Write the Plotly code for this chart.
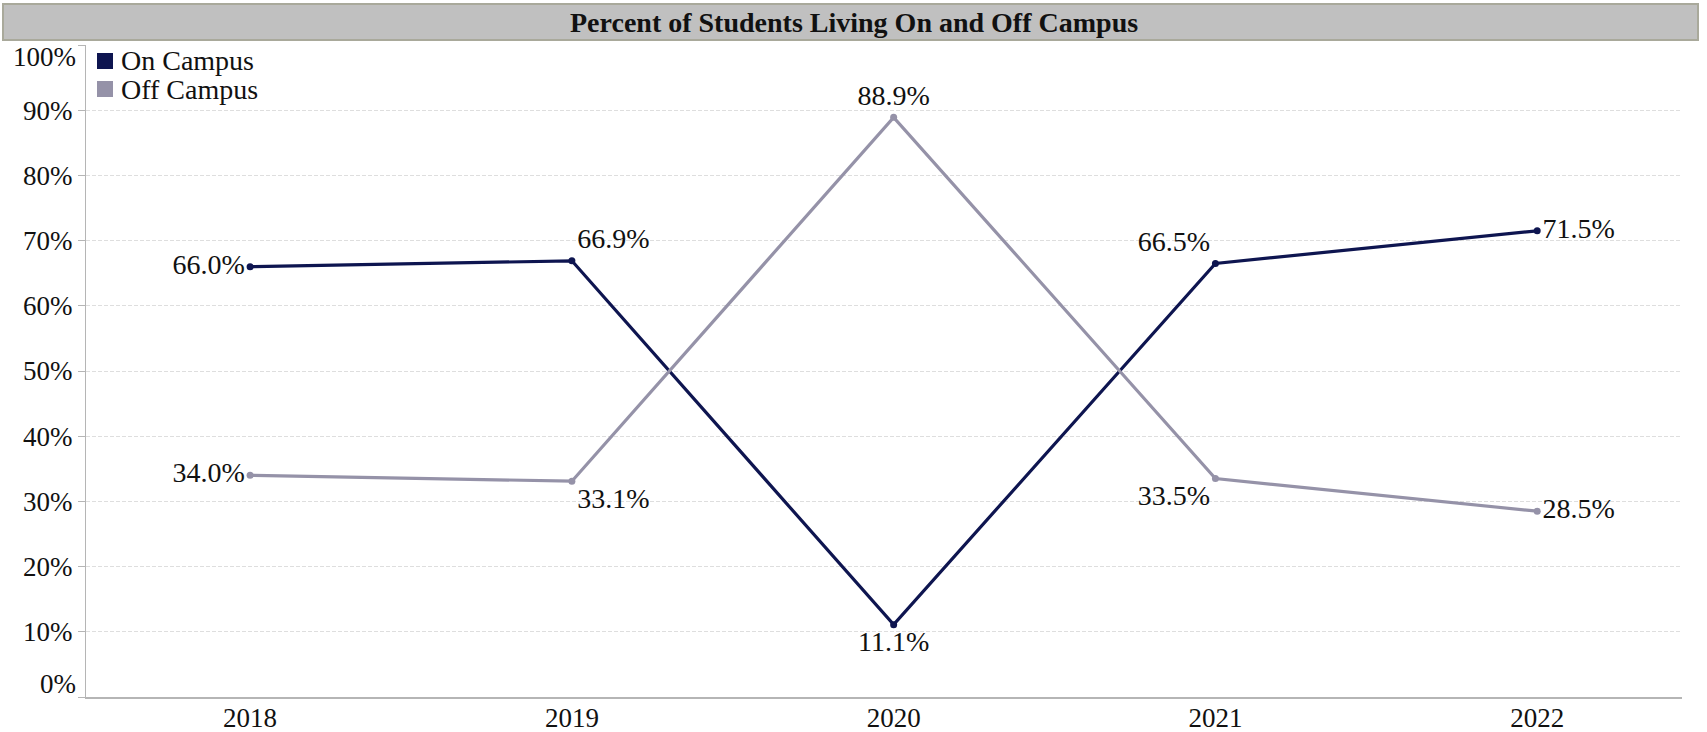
import plotly.graph_objects as go

years = [2018, 2019, 2020, 2021, 2022]
on_campus = [66.0, 66.9, 11.1, 66.5, 71.5]
off_campus = [34.0, 33.1, 88.9, 33.5, 28.5]
on_pos = ["middle left", "top right", "bottom center", "top left", "middle right"]
off_pos = ["middle left", "bottom right", "top center", "bottom left", "middle right"]
y_ticks = [0, 10, 20, 30, 40, 50, 60, 70, 80, 90, 100]
series_names = ["On Campus", "Off Campus"]

ON_COLOR = "#0e1550"
OFF_COLOR = "#9592a8"
FONT = "Liberation Serif, Times New Roman, serif"
FS = 28      # labels, legend, title
TFS = 27     # axis tick labels

fig = go.Figure()

fig.add_trace(go.Scatter(
    x=years, y=on_campus, mode="lines+markers+text", name=series_names[0],
    line=dict(color=ON_COLOR, width=3.2), marker=dict(color=ON_COLOR, size=7),
    text=[f"{v:.1f}%" for v in on_campus], textposition=on_pos,
    textfont=dict(family=FONT, size=FS, color="#111"),
    showlegend=False, cliponaxis=False, hoverinfo="skip"))
fig.add_trace(go.Scatter(
    x=years, y=off_campus, mode="lines+markers+text", name=series_names[1],
    line=dict(color=OFF_COLOR, width=3.2), marker=dict(color=OFF_COLOR, size=7),
    text=[f"{v:.1f}%" for v in off_campus], textposition=off_pos,
    textfont=dict(family=FONT, size=FS, color="#111"),
    showlegend=False, cliponaxis=False, hoverinfo="skip"))

W, H = 1707, 732
L, R, T, B = 86, 25, 45, 35
pw, ph = W - L - R, H - T - B

def px(x):
    return (x - L) / pw

def py(y):
    return (H - B - y) / ph

tick_text = ["" if v in (0, 100) else f"{v}%" for v in y_ticks]

fig.update_layout(
    width=W, height=H,
    margin=dict(l=L, r=R, t=T, b=B, autoexpand=False),
    paper_bgcolor="white", plot_bgcolor="white",
    font=dict(family=FONT, size=FS, color="#111"),
    xaxis=dict(range=[2017.49, 2022.45], tickvals=years, ticktext=[str(y) for y in years],
               showgrid=False, zeroline=False, showline=True, linecolor="#b5b5b5", linewidth=2,
               ticks="", tickfont=dict(size=TFS), ticklabelstandoff=-4, automargin=False),
    yaxis=dict(range=[0, 100], tickvals=y_ticks, ticktext=tick_text,
               showgrid=True, gridcolor="#dedede", griddash="4px,2px", gridwidth=1,
               zeroline=False, showline=True, linecolor="#b5b5b5", linewidth=1,
               ticks="outside", ticklen=7, tickcolor="#b5b5b5", tickfont=dict(size=TFS),
               automargin=False),
    showlegend=False,
)

# legend (manual swatches + labels)
legend_rows = [(series_names[0], ON_COLOR, 61), (series_names[1], OFF_COLOR, 89)]
for name, col, yc in legend_rows:
    fig.add_shape(type="rect", xref="paper", yref="paper",
                  x0=px(97), x1=px(113), y0=py(yc + 8), y1=py(yc - 8),
                  fillcolor=col, line=dict(width=0))
    fig.add_annotation(xref="paper", yref="paper", x=px(119), y=py(yc),
                       text=name, showarrow=False, xanchor="left", yanchor="middle",
                       font=dict(family=FONT, size=FS, color="#111"))

# title bar
fig.add_shape(type="rect", xref="paper", yref="paper",
              x0=px(3), x1=px(1698), y0=py(40), y1=py(4),
              fillcolor="#c0c0c0", line=dict(color="#a9a99b", width=2), layer="above")
fig.add_annotation(xref="paper", yref="paper", x=px(854), y=py(22),
                   text="<b>Percent of Students Living On and Off Campus</b>",
                   showarrow=False, font=dict(family=FONT, size=FS, color="#111"),
                   xanchor="center", yanchor="middle")
# end tick labels shifted inside
fig.add_annotation(xref="paper", yref="paper", x=px(78), y=py(57),
                   text="100%", showarrow=False, xanchor="right", yanchor="middle",
                   font=dict(family=FONT, size=TFS, color="#111"))
fig.add_annotation(xref="paper", yref="paper", x=px(78), y=py(684),
                   text="0%", showarrow=False, xanchor="right", yanchor="middle",
                   font=dict(family=FONT, size=TFS, color="#111"))

fig.write_html("out.html", config={"displayModeBar": False},
               post_script="document.body.style.margin='0px';")
